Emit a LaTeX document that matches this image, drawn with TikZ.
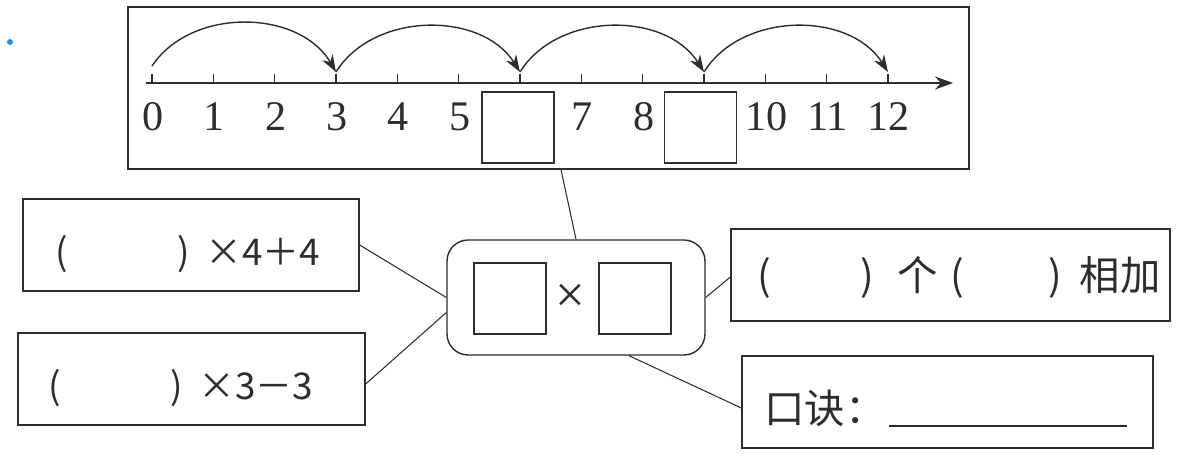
\documentclass[tikz,border=0pt]{standalone}
\usepackage{fontspec}
\setmainfont{Liberation Serif}
\newfontfamily\cjk{Noto Sans CJK SC}
\usetikzlibrary{arrows.meta}

\definecolor{ink}{RGB}{45,45,45}
\definecolor{dotblue}{RGB}{30,144,230}

\tikzset{
  box/.style={draw=ink, line width=0.8pt, minimum height=1.84cm, inner sep=0pt},
  blank/.style={draw=ink, line width=0.8pt, minimum width=1.44cm, minimum height=1.42cm, inner sep=0pt},
  num/.style={text=ink, font=\fontsize{24}{24}\selectfont, inner sep=0pt},
  txt/.style={text=ink, font=\cjk\fontsize{21}{21}\selectfont, inner sep=0pt},
  hop/.style={draw=ink, line width=0.8pt, -{Stealth[length=0.34cm, width=0.24cm]}}
}

\begin{document}
\begin{tikzpicture}[x=0.02cm, y=0.02cm]
  \useasboundingbox (0,0) rectangle (1186,454);
  \fill[dotblue] (10,412) circle (0.06cm);

  % number line
  \node[box, minimum width=16.82cm, minimum height=3.24cm] (line) at (548.5,366) {};
  \draw[draw=ink, line width=0.8pt, -{Stealth[length=0.36cm, width=0.26cm]}] (146,371) -- (953,371);
  \foreach \k in {0,...,12} {
    \coordinate (t\k) at ({152+61.33*\k},371);
    \draw[ink, line width=0.6pt] (t\k) -- ++(0,9);
  }
  \foreach \k in {0,1,2,3,4,5,7,8,10,11,12}
    \node[num] (n\k) at ({153+61.33*\k},337) {\k};
  \node[blank] (b6) at (518,326.5) {};
  \node[blank] (b9) at (700.5,326.5) {};
  \foreach \a/\b/\s in {0/3/0.34,3/6/0.22,6/9/0.22,9/12/0.22}
    \draw[hop] ([yshift=\s cm]t\a) to[bend left=58] ([yshift=0.22cm]t\b);

  % middle
  \node[draw=ink, line width=0.8pt, rounded corners=0.42cm, minimum width=5.16cm, minimum height=2.3cm] (mid) at (576,156.5) {};
  \node[blank] (f1) at (510,155.5) {};
  \node[blank] (f2) at (635,155.5) {};
  \node[num, font=\fontsize{30}{30}\selectfont] (times) at (570,156) {×};

  % boxes round it
  \node[box, minimum width=6.72cm] (lb1) at (191,209) {};
  \node[box, minimum width=6.94cm] (lb2) at (191.5,75) {};
  \node[box, minimum width=8.78cm] (rb1) at (950.5,179) {};
  \node[box, minimum width=8.22cm] (rb2) at (947.5,52) {};

  \node[txt, anchor=west] (lt1) at (55,200) {(\hspace{2.2cm})\hspace{0.3cm}×4＋4};
  \node[txt, anchor=west] (lt2) at (48,66) {(\hspace{2.2cm})\hspace{0.3cm}×3－3};
  \node[txt, font=\cjk\fontsize{23}{23}\selectfont, anchor=west] (rt1) at (757,177)
    {(\hspace{1.8cm})\hspace{0.45cm}个\hspace{0.25cm}(\hspace{1.7cm})\hspace{0.35cm}相加};
  \node[txt, font=\cjk\fontsize{23}{23}\selectfont, anchor=west] (rt2) at (764,46) {口诀：};
  \draw[ink, line width=0.8pt] (889,28) -- (1127,28);

  % connectors
  \draw[ink, line width=0.6pt] ([xshift=0.25cm]line.south) -- (mid.north);
  \draw[ink, line width=0.6pt] (lb1.east) -- (mid.west);
  \draw[ink, line width=0.6pt] ([yshift=-0.1cm]lb2.east) -- ([yshift=-0.3cm]mid.west);
  \draw[ink, line width=0.6pt] (mid.east) -- ([yshift=-0.04cm]rb1.west);
  \draw[ink, line width=0.6pt] ([xshift=1.06cm]mid.south) -- ([yshift=-0.12cm]rb2.west);
\end{tikzpicture}
\end{document}
